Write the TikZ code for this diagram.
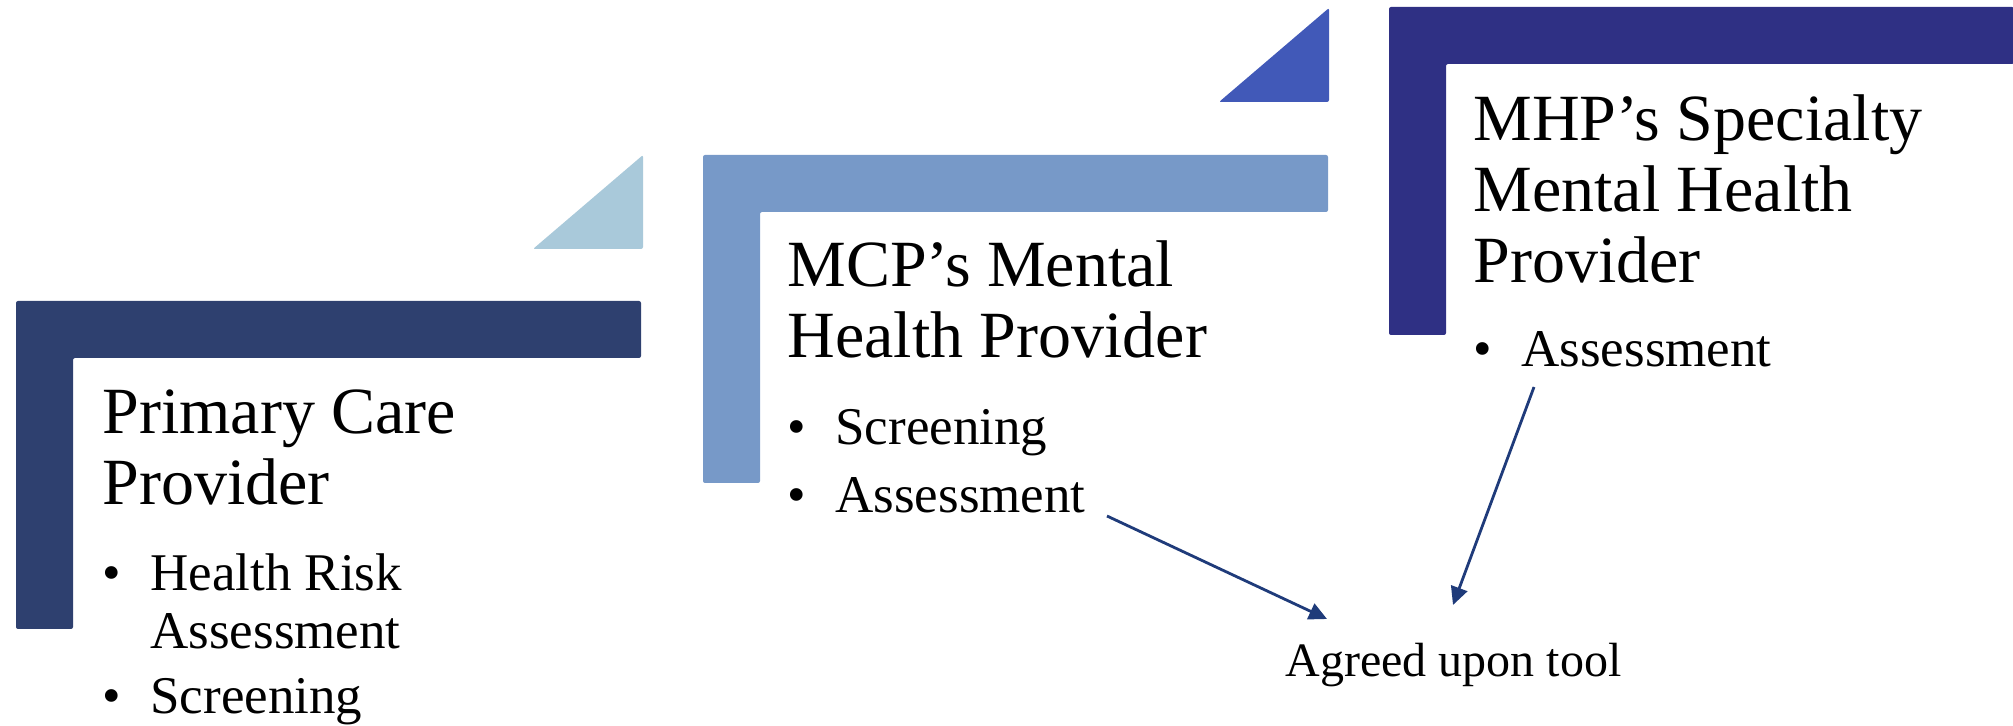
\documentclass[tikz,border=0pt]{standalone}
\usepackage{fontspec}
\setmainfont{Liberation Serif}
\usepackage{tikz}
\usetikzlibrary{arrows.meta}

\definecolor{pcpnavy}{HTML}{2E406F}
\definecolor{paleblue}{HTML}{A9C9DA}
\definecolor{mcpblue}{HTML}{7799C8}
\definecolor{royalblue}{HTML}{4159B8}
\definecolor{mhpindigo}{HTML}{2F3084}
\definecolor{arrowblue}{HTML}{1F3B7A}

% L-shaped bracket, top left corner at (#2,#3)
\newcommand{\bracketshape}[3]{%
  \fill[#1,rounded corners=1pt] (#2,#3) -- ++(625,0) -- ++(0,57) -- ++(-568,0)
    -- ++(0,271) -- ++(-57,0) -- cycle;}
% small right triangle, lower left corner at (#2,#3)
\newcommand{\wedgeshape}[3]{%
  \fill[#1,rounded corners=1pt] (#2,#3) -- ++(110,-94) -- ++(0,94) -- cycle;}
% bullet item
\newcommand{\bitem}[1]{\par\hangindent=24pt\hangafter=1\noindent
  \makebox[24pt][l]{\textbullet}#1}

\begin{document}
\begin{tikzpicture}[x=0.5pt,y=-0.5pt,->,>={Triangle[length=9pt,width=8.5pt]}]
  \tikzstyle{head}=[anchor=base west,inner sep=0pt,
                    font=\fontsize{33}{35.5}\selectfont]
  \tikzstyle{items}=[anchor=base west,inner sep=0pt,
                     font=\fontsize{26.5}{28.5}\selectfont]
  \tikzstyle{tool}=[anchor=base west,inner sep=0pt,
                    font=\fontsize{24}{26}\selectfont]

  \useasboundingbox (0,0) rectangle (2013,726);

  \bracketshape{pcpnavy}{16}{301}
  \bracketshape{mcpblue}{703}{155}
  \bracketshape{mhpindigo}{1389}{7}
  \wedgeshape{paleblue}{533}{249}
  \wedgeshape{royalblue}{1219}{102}

  \node[head] (PCP) at (102,434) {\parbox[t]{400pt}{Primary Care\\Provider}};
  \node[items] (PCPlist) at (102,591)
    {\parbox[t]{400pt}{\setlength{\parskip}{4.5pt}%
     \bitem{Health Risk\\Assessment}\bitem{Screening}}};

  \node[head] (MCP) at (787,287) {\parbox[t]{400pt}{MCP’s Mental\\Health Provider}};
  \node[items] (MCPlist) at (787,445)
    {\parbox[t]{400pt}{\setlength{\parskip}{5.5pt}%
     \bitem{Screening}\bitem{Assessment}}};

  \node[head] (MHP) at (1473,141)
    {\parbox[t]{400pt}{MHP’s Specialty\\Mental Health\\Provider}};
  \node[items] (MHPlist) at (1473,367)
    {\parbox[t]{400pt}{\bitem{Assessment}}};

  \node[tool] (T) at (1285,676) {Agreed upon tool};

  \coordinate (A) at (1107,516);
  \coordinate (B) at (1327,619);
  \coordinate (C) at (1534,387);
  \coordinate (D) at (1453,605);

  \path[arrowblue,line width=1.4pt]
        (A) edge (B)
        (C) edge (D);

\end{tikzpicture}
\end{document}
